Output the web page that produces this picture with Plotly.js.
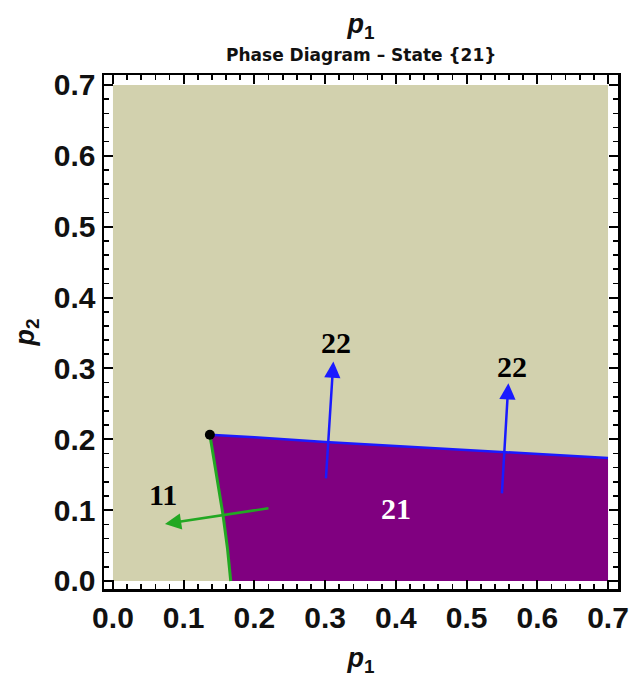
<!DOCTYPE html>
<html>
<head>
<meta charset="utf-8">
<script src="https://cdn.plot.ly/plotly-3.0.1.min.js"></script>
<style>html,body{margin:0;padding:0;background:#fff;}#chart{width:634px;height:688px;}</style>
</head>
<body>
<div id="chart"></div>
<script>
// Domain of the phase diagram
const domainX = [0, 0.7];
const domainY = [0, 0.7];

// Boundary between state 21 and state 22 (blue)
const blueX = [0.137, 0.2, 0.3, 0.4, 0.5, 0.6, 0.7];
const blueY = [0.2065, 0.203, 0.1962, 0.1905, 0.1847, 0.179, 0.1735];

// Boundary between state 21 and state 11 (green), from the corner point down
const greenX = [0.137, 0.146, 0.1556, 0.162, 0.1665];
const greenY = [0.2065, 0.15, 0.0932, 0.045, 0.0];

// Corner point
const dotX = [0.137];
const dotY = [0.2065];

// Arrows: [tailX, tailY, tipX, tipY]
const blueArrow1 = [0.301, 0.1427, 0.3116, 0.3097];
const blueArrow2 = [0.5498, 0.1215, 0.5591, 0.2792];
const greenArrow = [0.222, 0.103, 0.0735, 0.0805];

// Region labels
const labelText = ["22", "22", "21", "11"];
const labelX = [0.3154, 0.5639, 0.40, 0.0711];
const labelY = [0.336, 0.3027, 0.1017, 0.1215];
const labelColor = ["#000000", "#000000", "#ffffff", "#000000"];

const TAN = "#d2d1ae";
const PURPLE = "#800080";
const BLUE = "#1a1aff";
const GREEN = "#22a822";
const SANS = "Liberation Sans, Arial, sans-serif";

// Background region (tan)
const bgTrace = {
  x: [domainX[0], domainX[1], domainX[1], domainX[0], domainX[0]],
  y: [domainY[0], domainY[0], domainY[1], domainY[1], domainY[0]],
  mode: "lines", fill: "toself", fillcolor: TAN, line: {width: 0, color: TAN},
  hoverinfo: "skip", showlegend: false
};

// State 21 region (purple) built from the boundaries
const regX = blueX.concat([domainX[1]]).concat(greenX.slice().reverse());
const regY = blueY.concat([domainY[0]]).concat(greenY.slice().reverse());
const regTrace = {
  x: regX, y: regY, mode: "lines", fill: "toself", fillcolor: PURPLE,
  line: {width: 0, color: PURPLE}, hoverinfo: "skip", showlegend: false
};

const blueTrace = {x: blueX, y: blueY, mode: "lines", line: {color: BLUE, width: 2.5}, showlegend: false};
const greenTrace = {x: greenX, y: greenY, mode: "lines", line: {color: GREEN, width: 3}, showlegend: false};
const dotTrace = {x: dotX, y: dotY, mode: "markers", marker: {color: "#000", size: 10}, showlegend: false};

function arrow(a, color) {
  return {
    x: a[2], y: a[3], ax: a[0], ay: a[1], xref: "x", yref: "y", axref: "x", ayref: "y",
    text: "", showarrow: true, arrowhead: 2, arrowsize: 1.3, arrowwidth: 2.5, arrowcolor: color,
    standoff: 0, startstandoff: 0
  };
}

const annotations = [
  arrow(blueArrow1, BLUE),
  arrow(blueArrow2, BLUE),
  arrow(greenArrow, GREEN)
];
for (let i = 0; i < labelText.length; i++) {
  annotations.push({
    x: labelX[i], y: labelY[i], xref: "x", yref: "y", text: "<b>" + labelText[i] + "</b>",
    showarrow: false, font: {family: "Liberation Serif, Times New Roman, serif", size: 30, color: labelColor[i]}
  });
}
annotations.push({
  x: 0.5, y: 1 + (75 - 55) / 514, xref: "paper", yref: "paper", yanchor: "middle",
  text: "<b>Phase Diagram – State {21}</b>", showarrow: false,
  font: {family: "DejaVu Sans, sans-serif", size: 17, color: "#111"}
});

const axisCommon = {
  showgrid: false, zeroline: false, showline: true, linecolor: "#000", linewidth: 2.5,
  mirror: "ticks", ticks: "inside", ticklen: 9, tickwidth: 2, tickcolor: "#000",
  tick0: 0, dtick: 0.1, tickformat: ".1f", layer: "above traces",
  minor: {dtick: 0.02, ticks: "inside", ticklen: 5, tickwidth: 1.6, tickcolor: "#000"},
  tickfont: {family: SANS, size: 30, color: "#111", weight: "bold"}
};

const layout = {
  width: 634, height: 688,
  margin: {l: 104, r: 16, t: 75, b: 99},
  paper_bgcolor: "#fff", plot_bgcolor: "#fff",
  title: {
    text: "<b><i>p</i><sub>1</sub></b>", x: 0.5, xanchor: "center", y: 1 - 24 / 688, yanchor: "middle",
    xref: "paper",
    font: {family: SANS, size: 27, color: "#111"}
  },
  xaxis: Object.assign({}, axisCommon, {
    range: [-0.0127, 0.7141],
    title: {text: "<b><i>p</i><sub>1</sub></b>", standoff: 16,
      font: {family: SANS, size: 27, color: "#111"}}
  }),
  yaxis: Object.assign({}, axisCommon, {
    range: [-0.0113, 0.7141],
    title: {text: "<b><i>p</i><sub>2</sub></b>", standoff: 12,
      font: {family: SANS, size: 27, color: "#111"}}
  }),
  annotations: annotations,
  showlegend: false
};

Plotly.newPlot("chart", [bgTrace, regTrace, blueTrace, greenTrace, dotTrace], layout, {staticPlot: true});
</script>
</body>
</html>
